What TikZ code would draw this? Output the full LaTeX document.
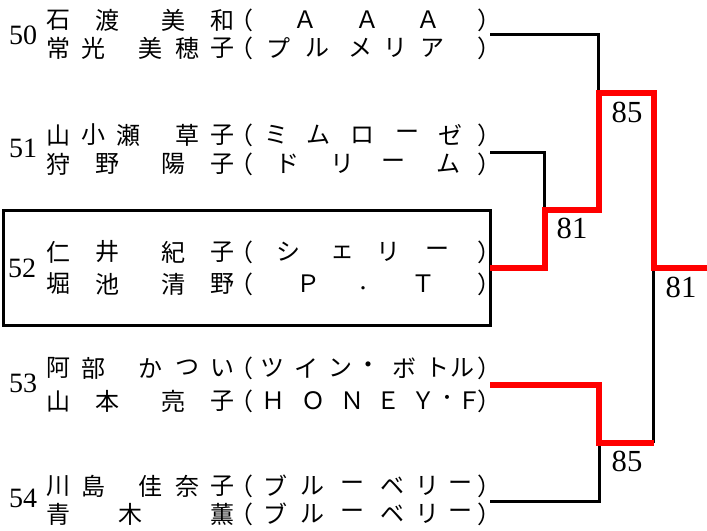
\documentclass[tikz,border=0pt]{standalone}
\usepackage{fontspec}
\setmainfont{Liberation Serif}
\newfontfamily\jp{Noto Sans CJK JP}

% one line of an entry: name, x/character list
\newcommand\jline[3]{\foreach \cx/\ch [count=\k] in {#3} \node[jp] (#1-\k) at (\cx,#2) {\ch};}

\begin{document}
\begin{tikzpicture}[x=0.75pt,y=-0.75pt,
		jp/.style={font=\jp\fontsize{18}{20}\selectfont,inner sep=0pt},
		seed/.style={font=\fontsize{21}{24}\selectfont,inner sep=0pt},
		score/.style={font=\fontsize{23}{26}\selectfont,inner sep=0pt},
		lose/.style={line width=2.25pt},
		win/.style={color=red,line width=4.5pt}]
	\useasboundingbox (0,0) rectangle (707,531);

	% entries
	\node[seed] (n50) at (23,35) {50};
	\jline{n50a}{20}{58/石,107/渡,173/美,222/和,241/（,305/Ａ,367/Ａ,428/Ａ,489/）}
	\jline{n50b}{48}{58/常,93/光,150/美,187/穂,222/子,241/（,278/プ,317/ル,360/メ,395/リ,432/ア,489/）}

	\node[seed] (n51) at (23,148) {51};
	\jline{n51a}{135}{58/山,93/小,128/瀬,187/草,222/子,241/（,276/ミ,318/ム,362/ロ,407/ー,450/ゼ,489/）}
	\jline{n51b}{164}{58/狩,107/野,173/陽,222/子,241/（,287/ド,342/リ,393/ー,448/ム,489/）}

	\node[seed] (n52) at (22,268) {52};
	\jline{n52a}{252}{58/仁,107/井,173/紀,222/子,241/（,288/シ,342/ェ,388/リ,437/ー,489/）}
	\jline{n52b}{284}{58/堀,107/池,173/清,222/野,241/（,308/Ｐ,423/Ｔ,489/）}
	\node[seed] (n52b-dot) at (363,288) {.};

	\node[seed] (n53) at (23,383) {53};
	\jline{n53a}{368}{58/阿,93/部,150/か,187/つ,222/い,241/（,272/ツ,306/イ,340/ン,368/・,404/ボ,437/ト,462/ル,489/）}
	\jline{n53b}{401}{58/山,107/本,173/亮,222/子,241/（,273/Ｈ,313/Ｏ,352/Ｎ,388/Ｅ,423/Ｙ,447/･,469/Ｆ,489/）}

	\node[seed] (n54) at (23,498) {54};
	\jline{n54a}{486}{58/川,93/島,150/佳,187/奈,222/子,241/（,275/ブ,312/ル,352/ー,392/ベ,427/リ,460/ー,489/）}
	\jline{n54b}{514}{58/青,130/木,222/薫,241/（,275/ブ,312/ル,352/ー,392/ベ,427/リ,460/ー,489/）}

	% box round the winner
	\coordinate (b1) at (3.5,211);
	\coordinate (b2) at (490,325.5);
	\draw[lose] (b1) rectangle (b2);

	% bracket
	\coordinate (p50) at (490,35);
	\coordinate (p51) at (490,152.5);
	\coordinate (p52) at (490,268);
	\coordinate (p53) at (490,384.5);
	\coordinate (p54) at (490,501.5);
	\coordinate (m1) at (544.5,210);
	\coordinate (m2) at (599,443);
	\coordinate (s1) at (598.5,93);
	\coordinate (f) at (653.5,268);
	\coordinate (w) at (707,268);

	\draw[lose] (p50) -| (s1);
	\draw[lose] (p51) -| (m1);
	\draw[lose] (p54) -| (m2);
	\draw[lose] (m2 -| f) -- (f);
	\draw[win] (p53) -| (m2) -- (m2 -| f);
	\draw[win] (p52) -| (m1) -| (s1) -| (f) -- (w);

	% scores
	\node[score] (r1) at (572,228) {81};
	\node[score] (r2) at (627,112) {85};
	\node[score] (r3) at (627,461) {85};
	\node[score] (r4) at (681,287) {81};
\end{tikzpicture}
\end{document}
